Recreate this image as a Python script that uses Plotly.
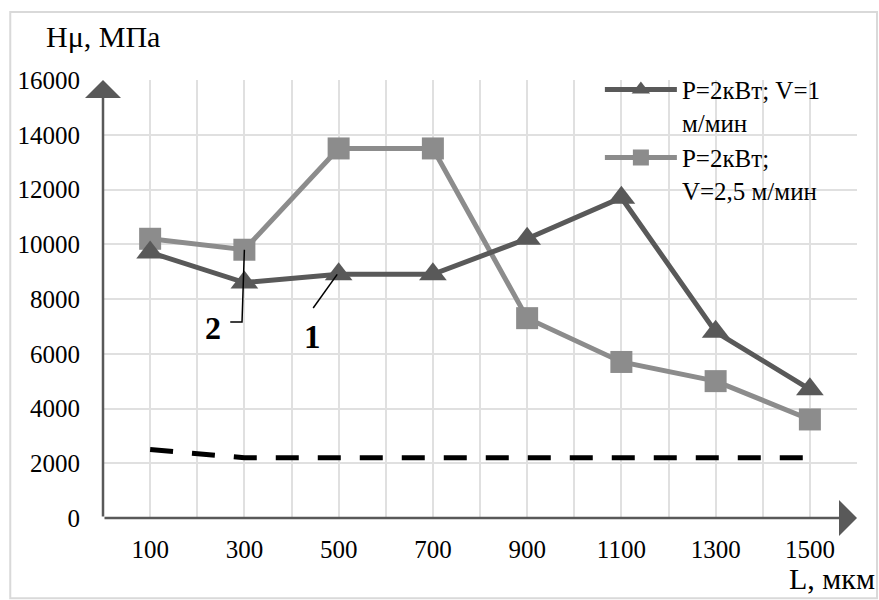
import plotly.graph_objects as go

L = [100, 300, 500, 700, 900, 1100, 1300, 1500]
s1_name = "P=2кВт; V=1<br>м/мин"
s1 = [9700, 8600, 8900, 8900, 10200, 11700, 6800, 4700]
s2_name = "P=2кВт;<br>V=2,5 м/мин"
s2 = [10200, 9800, 13500, 13500, 7300, 5700, 5000, 3600]
base = [2500, 2200, 2200, 2200, 2200, 2200, 2200, 2200]
yticks = [0, 2000, 4000, 6000, 8000, 10000, 12000, 14000, 16000]

FONT = "Liberation Serif, Times New Roman, DejaVu Serif, serif"
DARK = "#595959"
LIGHT = "#8c8c8c"
GRID = "#e0e0e0"

fig = go.Figure()
fig.add_trace(go.Scatter(x=L, y=base, mode="lines", showlegend=False,
                         line=dict(color="black", width=5, dash="23px,19px")))
fig.add_trace(go.Scatter(x=L, y=s2, name=s2_name, mode="lines+markers",
                         line=dict(color=LIGHT, width=5),
                         marker=dict(symbol="square", size=22, color=LIGHT)))
fig.add_trace(go.Scatter(x=L, y=s1, name=s1_name, mode="lines+markers",
                         line=dict(color=DARK, width=5),
                         marker=dict(symbol="triangle-up", size=24, color=DARK)))

fig.update_layout(
    width=879, height=600,
    margin=dict(l=103, r=22, t=80, b=82),
    paper_bgcolor="white", plot_bgcolor="white",
    font=dict(family=FONT, size=25, color="black"),
    legend=dict(x=0.659, y=1.03, xanchor="left", yanchor="top", valign="top",
                traceorder="reversed", bgcolor="rgba(255,255,255,0)",
                font=dict(size=25, family=FONT), itemwidth=72,
                tracegroupgap=2),
    xaxis=dict(range=[0, 1600], tickvals=L, ticktext=[str(v) for v in L],
               showgrid=True, gridcolor=GRID, gridwidth=2,
               minor=dict(tick0=0, dtick=100, showgrid=True, gridcolor=GRID, gridwidth=2),
               showline=False, zeroline=False, ticks="", ticklabelstandoff=14),
    yaxis=dict(range=[0, 16000], tickvals=yticks, ticktext=[str(v) for v in yticks],
               showgrid=True, gridcolor=GRID, gridwidth=2,
               showline=False, zeroline=False, ticks="", ticklabelstandoff=22),
    shapes=[
        dict(type="rect", xref="paper", yref="paper", x0=-0.123, x1=1.0265, y0=-0.183, y1=1.155,
             line=dict(color="#d9d9d9", width=2), layer="below"),
        dict(type="path", xref="x", yref="y", path="M 300,9800 L 295,7160 L 270,7160",
             line=dict(color="black", width=1.5)),
        dict(type="line", xref="x", yref="y", x0=497, y0=8900, x1=446, y1=7670,
             line=dict(color="black", width=1.5)),
    ],
)

# axis arrows
fig.add_annotation(x=0, y=16000, ax=0, ay=0, xref="x", yref="y", axref="x", ayref="y",
                   showarrow=True, arrowhead=1, arrowsize=2.4, arrowwidth=2.5, arrowcolor=DARK, text="")
fig.add_annotation(x=1600, y=0, ax=0, ay=0, xref="x", yref="y", axref="x", ayref="y",
                   showarrow=True, arrowhead=1, arrowsize=2.4, arrowwidth=2.5, arrowcolor=DARK, text="")

# axis titles
fig.add_annotation(x=-0.078, y=1.099, xref="paper", yref="paper", xanchor="left", yanchor="middle",
                   text="Hμ, МПа", showarrow=False, font=dict(size=30, family=FONT))
fig.add_annotation(x=1.0265, y=-0.137, xref="paper", yref="paper", xanchor="right", yanchor="middle",
                   text="L, мкм", showarrow=False, font=dict(size=30, family=FONT))

# curve labels
fig.add_annotation(x=233, y=6940, xref="x", yref="y", text="<b>2</b>", showarrow=False,
                   font=dict(size=32, family=FONT))
fig.add_annotation(x=444, y=6600, xref="x", yref="y", text="<b>1</b>", showarrow=False,
                   font=dict(size=33, family=FONT))

fig.write_html("out.html", config={"displayModeBar": False},
               post_script="document.body.style.margin='0px';")
